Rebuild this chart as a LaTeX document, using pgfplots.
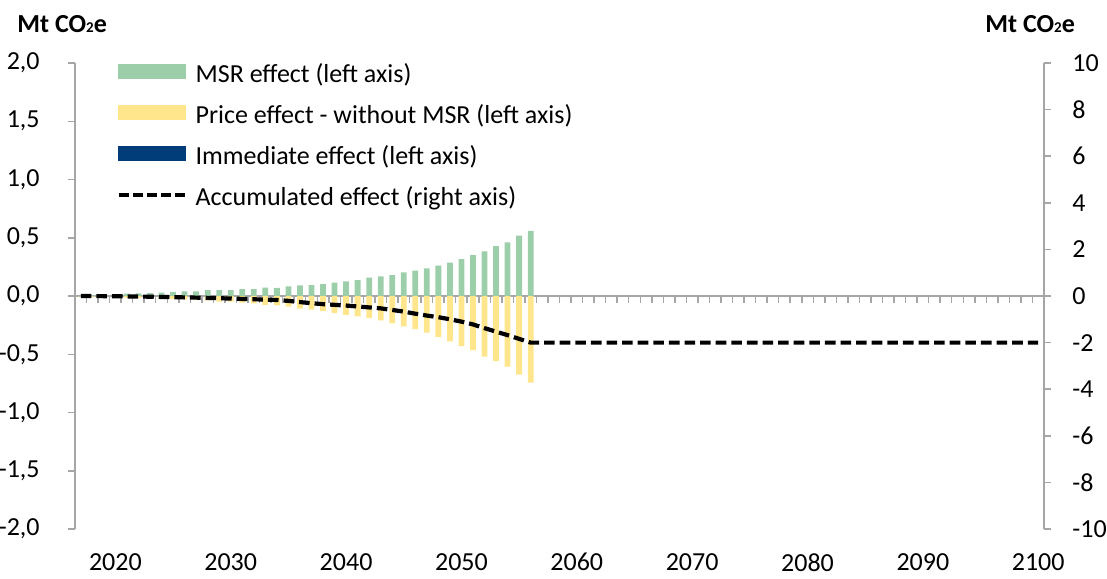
\documentclass[border=0pt]{standalone}
\usepackage{fontspec}
\setmainfont{Carlito}
\usepackage{pgfplots}
\pgfplotsset{compat=1.18}
\usepackage{pgfplotstable}

\definecolor{msrgreen}{RGB}{157,206,170}
\definecolor{priceyellow}{RGB}{255,230,140}
\definecolor{immblue}{RGB}{0,61,121}
\definecolor{axgray}{RGB}{166,166,166}

\pgfplotstableread{
year msr price
2017 0.000 -0.003
2018 0.005 -0.005
2019 0.010 -0.008
2020 0.015 -0.010
2021 0.020 -0.013
2022 0.023 -0.016
2023 0.025 -0.018
2024 0.030 -0.020
2025 0.035 -0.025
2026 0.040 -0.029
2027 0.040 -0.034
2028 0.050 -0.040
2029 0.050 -0.049
2030 0.050 -0.049
2031 0.060 -0.057
2032 0.060 -0.063
2033 0.072 -0.077
2034 0.070 -0.080
2035 0.083 -0.092
2036 0.092 -0.108
2037 0.093 -0.116
2038 0.103 -0.130
2039 0.114 -0.148
2040 0.126 -0.163
2041 0.137 -0.175
2042 0.157 -0.190
2043 0.169 -0.210
2044 0.180 -0.235
2045 0.203 -0.260
2046 0.217 -0.285
2047 0.237 -0.315
2048 0.260 -0.350
2049 0.286 -0.390
2050 0.317 -0.430
2051 0.351 -0.464
2052 0.383 -0.521
2053 0.429 -0.558
2054 0.460 -0.607
2055 0.518 -0.675
2056 0.560 -0.744
}\bars

\pgfplotstableread{
year acc
2017 0.00
2020 -0.01
2023 -0.03
2025 -0.05
2028 -0.08
2030 -0.11
2032 -0.14
2034 -0.17
2035 -0.21
2036 -0.26
2037 -0.31
2038 -0.35
2040 -0.41
2042 -0.49
2043 -0.53
2044 -0.60
2045 -0.67
2046 -0.76
2047 -0.84
2048 -0.91
2049 -1.00
2050 -1.10
2051 -1.22
2052 -1.38
2053 -1.53
2054 -1.68
2055 -1.84
2056 -2.00
2100 -2.00
}\acc

\begin{document}
\begin{tikzpicture}
\useasboundingbox (-37.5pt,-24.5pt) rectangle (516pt,264.5pt);
\pgfplotsset{
  base/.style={
    scale only axis, width=484.5pt, height=233pt,
    xmin=2016.5, xmax=2100.5,
    tick label style={font=\fontsize{13}{15}\selectfont, inner sep=0pt},
    /pgf/number format/assume math mode=true,
    axis line style={axgray, line width=0.75pt},
    tick style={axgray, line width=0.75pt},
    major tick length=3.5pt,
    tick align=outside,
  }
}
\begin{axis}[base,
  ymin=-2, ymax=2,
  axis y line*=left,
  axis x line=middle,
  x axis line style={-},
  xtick={2017.5,2018.5,...,2099.5},
  xticklabels={},
  x tick style={yshift=-1.75pt},
  ytick={-2,-1.5,...,2},
  yticklabel style={/pgf/number format/.cd, fixed, fixed zerofill, precision=1, use comma, /tikz/.cd, xshift=-14pt},
]
\addplot[ybar, bar width=0.5, bar shift=0pt, fill=msrgreen, draw=none] table[x=year,y=msr]{\bars};
\addplot[ybar, bar width=0.5, bar shift=0pt, fill=priceyellow, draw=none] table[x=year,y=price]{\bars};
\end{axis}

\begin{axis}[base,
  ymin=-10, ymax=10,
  axis y line*=right,
  axis x line*=bottom,
  x axis line style={draw=none},
  xtick={2020,2030,...,2100},
  xticklabels={2020,2030,2040,2050,2060,2070,2080,2090,2100},
  x tick style={draw=none},
  xticklabel style={anchor=north, yshift=-8.5pt},
  ytick={-10,-8,...,10},
  yticklabel style={anchor=west, xshift=10.5pt},
  legend style={at={(0,1)}, anchor=north west, xshift=20.5pt, yshift=-0.5pt,
    draw=none, fill=none, inner sep=0pt, row sep=8.3pt,
    font=\fontsize{13}{15}\selectfont,
    nodes={inner sep=0pt, text height=9pt, text depth=3pt},
    /tikz/every odd column/.append style={column sep=4pt}},
  legend cell align=left,
]
\addlegendimage{legend image code/.code={\fill[msrgreen] (0pt,-1pt) rectangle (33.5pt,6pt);}}
\addlegendentry{MSR effect (left axis)}
\addlegendimage{legend image code/.code={\fill[priceyellow] (0pt,-1pt) rectangle (33.5pt,6pt);}}
\addlegendentry{Price effect - without MSR (left axis)}
\addlegendimage{legend image code/.code={\fill[immblue] (0pt,-1pt) rectangle (33.5pt,6pt);}}
\addlegendentry{Immediate effect (left axis)}
\addplot[black, line width=2.1pt, dash pattern=on 5.3pt off 2.5pt,
  legend image code/.code={\draw[black, line width=2.1pt, dash pattern=on 5pt off 2.1pt] (0pt,2pt) -- (33.5pt,2pt);}]
  table[x=year,y=acc]{\acc};
\addlegendentry{Accumulated effect (right axis)}
\end{axis}

\node[anchor=base west, inner sep=0pt, font=\bfseries\fontsize{13}{15}\selectfont] at (-29pt,248pt) {Mt CO{\fontsize{7.5}{8}\selectfont 2}e};
\node[anchor=base west, inner sep=0pt, font=\bfseries\fontsize{13}{15}\selectfont] at (455pt,248pt) {Mt CO{\fontsize{7.5}{8}\selectfont 2}e};
\end{tikzpicture}
\end{document}
